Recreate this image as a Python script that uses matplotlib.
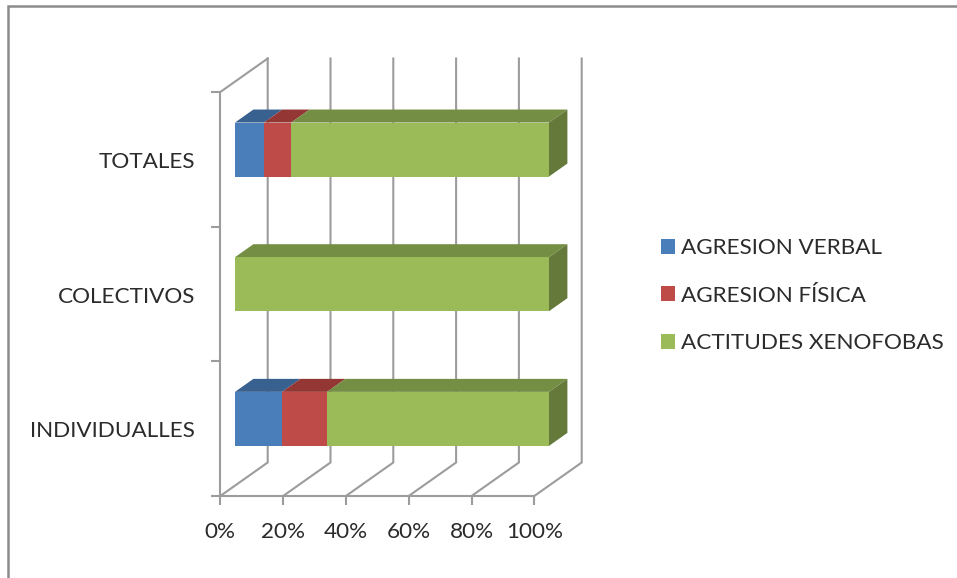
import matplotlib
matplotlib.use("Agg")
import matplotlib.pyplot as plt
from matplotlib.lines import Line2D
from matplotlib.patches import Patch, Polygon

categories = ["INDIVIDUALLES", "COLECTIVOS", "TOTALES"]
series_names = ["AGRESION VERBAL", "AGRESION FÍSICA", "ACTITUDES XENOFOBAS"]
agresion_verbal = [15.0, 0.0, 9.2]
agresion_fisica = [14.3, 0.0, 8.7]
actitudes_xenofobas = [70.7, 100.0, 82.1]
x_ticks = [0, 20, 40, 60, 80, 100]
x_labels = ["0%", "20%", "40%", "60%", "80%", "100%"]

front_colors = ["#4A7EBB", "#BE4B48", "#9BBB59"]
top_colors = ["#38618F", "#943634", "#748E44"]
side_color = "#64793A"
grid_color = "#9C9C9C"
text_color = "#2B2B2B"

W, H = 957, 578
plt.rcParams["font.family"] = ["Lato", "DejaVu Sans"]
fig = plt.figure(figsize=(W / 100, H / 100), dpi=100)

left, right, top, bottom = 220.3, 534.3, 92.0, 496.0
ax = fig.add_axes([left / W, 1 - bottom / H, (right - left) / W, (bottom - top) / H])
ax.set_xlim(0, 100)
ax.set_ylim(0, len(categories))
ax.patch.set_alpha(0)

px_x = 100 / (right - left)
px_y = len(categories) / (bottom - top)
LW = 1.5
FS = 16.2

# walls and floor
wall_dx, wall_dy = 47.4 * px_x, 33.5 * px_y
for t in x_ticks:
    ax.plot([t, t + wall_dx, t + wall_dx], [0, wall_dy, len(categories) + wall_dy],
            color=grid_color, lw=LW, clip_on=False, zorder=1, solid_joinstyle="miter")
ax.plot([0, wall_dx], [len(categories), len(categories) + wall_dy],
        color=grid_color, lw=LW, clip_on=False, zorder=1)

# bars
bar_dx, bar_dy = 14.7 * px_x, 9.8 * px_y
depth_dx, depth_dy = 18.4 * px_x, 13.0 * px_y
half = 27.0 * px_y
series = [agresion_verbal, agresion_fisica, actitudes_xenofobas]
for i in range(len(categories)):
    y0 = i + 0.5 - half + bar_dy
    y1 = i + 0.5 + half + bar_dy
    start = bar_dx
    for vals, fc, tc in zip(series, front_colors, top_colors):
        end = start + vals[i]
        if vals[i] > 0:
            ax.add_patch(Polygon([(start, y1), (start + depth_dx, y1 + depth_dy),
                                  (end + depth_dx, y1 + depth_dy), (end, y1)],
                                 closed=True, fc=tc, ec="none", clip_on=False, zorder=3))
            ax.add_patch(Polygon([(start, y0), (end, y0), (end, y1), (start, y1)],
                                 closed=True, fc=fc, ec="none", clip_on=False, zorder=4))
        start = end
    ax.add_patch(Polygon([(start, y0), (start + depth_dx, y0 + depth_dy),
                          (start + depth_dx, y1 + depth_dy), (start, y1)],
                         closed=True, fc=side_color, ec="none", clip_on=False, zorder=3))

# axes
for s in ("top", "right"):
    ax.spines[s].set_visible(False)
for s in ("left", "bottom"):
    ax.spines[s].set_color(grid_color)
    ax.spines[s].set_linewidth(LW)
    ax.spines[s].set_zorder(2)
ax.set_xticks(x_ticks)
ax.set_xticklabels(x_labels, fontsize=FS, color=text_color)
ax.tick_params(axis="x", length=6.5, width=LW, color=grid_color, pad=12)
ax.set_yticks(range(len(categories) + 1))
ax.set_yticklabels([])
ax.tick_params(axis="y", which="major", length=6.5, width=LW, color=grid_color)
ax.set_yticks([i + 0.5 - 0.8 * px_y for i in range(len(categories))], minor=True)
ax.set_yticklabels(categories, minor=True, fontsize=FS, color=text_color)
ax.tick_params(axis="y", which="minor", length=0, pad=18)

# legend
handles = [Patch(fc=c, ec="none") for c in front_colors]
fig.legend(handles, series_names, loc="upper left",
           bbox_to_anchor=(654 / W, 1 - 231.5 / H), frameon=False,
           fontsize=FS, labelcolor=text_color, handlelength=0.63, handleheight=0.63,
           handletextpad=0.27, labelspacing=1.22, borderpad=0.3, borderaxespad=0)

# outer frame
fig.add_artist(Line2D([8 / W, 8 / W, 1], [0, 1 - 5.5 / H, 1 - 5.5 / H],
                      color="#8C8C8C", lw=1.8, solid_joinstyle="miter"))

fig.savefig("out.png", dpi=100)
